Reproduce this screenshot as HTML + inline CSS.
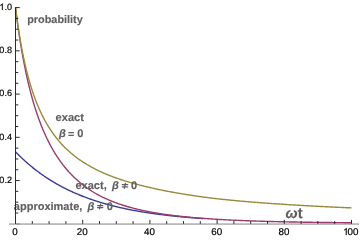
<!DOCTYPE html><html><head><meta charset="utf-8"><style>html,body{margin:0;padding:0;background:#fff;}svg{display:block;font-family:"Liberation Sans",sans-serif;text-rendering:geometricPrecision;}</style></head><body>
<svg width="361" height="241" viewBox="0 0 361 241">
<defs><filter id="bl" x="0" y="0" width="361" height="241" filterUnits="userSpaceOnUse"><feGaussianBlur stdDeviation="0.35"/></filter></defs>
<rect width="361" height="241" fill="#fff"/>
<g shape-rendering="auto">
<rect x="9" y="223" width="350" height="1" fill="#c6c6c6"/>
<rect x="9" y="224" width="350" height="1" fill="#bcbcbc"/>
</g>
<g filter="url(#bl)">
<g fill="none" stroke-width="1.4" stroke-linejoin="round">
<path d="M15.50 151.80 L16.13 152.44 L16.75 153.08 L17.38 153.72 L18.01 154.35 L18.64 154.97 L19.26 155.59 L19.89 156.20 L20.52 156.80 L21.14 157.41 L21.77 158.00 L22.40 158.59 L23.03 159.18 L23.65 159.76 L24.28 160.33 L24.91 160.90 L25.54 161.46 L26.16 162.02 L26.79 162.58 L27.42 163.12 L28.04 163.67 L28.67 164.21 L29.30 164.74 L29.93 165.27 L30.55 165.80 L31.18 166.32 L31.81 166.83 L32.43 167.34 L33.06 167.85 L33.69 168.35 L34.32 168.84 L34.94 169.34 L35.57 169.82 L36.20 170.31 L36.82 170.79 L37.45 171.26 L38.08 171.73 L38.71 172.20 L39.33 172.66 L39.96 173.12 L40.59 173.57 L41.22 174.02 L41.84 174.47 L42.47 174.91 L43.10 175.34 L43.72 175.78 L44.35 176.21 L44.98 176.63 L45.61 177.05 L46.23 177.47 L46.86 177.89 L47.49 178.30 L48.11 178.70 L48.74 179.11 L49.37 179.51 L50.00 179.90 L50.62 180.29 L51.25 180.68 L51.88 181.07 L52.50 181.45 L53.13 181.83 L53.76 182.20 L54.39 182.57 L55.01 182.94 L55.64 183.31 L56.27 183.67 L56.90 184.03 L57.52 184.38 L58.15 184.73 L58.78 185.08 L59.40 185.43 L60.03 185.77 L60.66 186.11 L61.29 186.45 L61.91 186.78 L62.54 187.11 L63.17 187.44 L63.79 187.76 L64.42 188.08 L65.05 188.40 L65.68 188.71 L66.30 189.03 L66.93 189.34 L67.56 189.64 L68.18 189.95 L68.81 190.25 L69.44 190.55 L70.07 190.84 L70.69 191.14 L71.32 191.43 L71.95 191.72 L72.58 192.00 L73.20 192.28 L73.83 192.56 L74.46 192.84 L75.08 193.12 L75.71 193.39 L76.34 193.66 L76.97 193.93 L77.59 194.19 L78.22 194.46 L78.85 194.72 L79.47 194.98 L80.10 195.23 L80.73 195.49 L81.36 195.74 L81.98 195.99 L82.61 196.23 L83.24 196.48 L83.86 196.72 L84.49 196.96 L85.12 197.20 L85.75 197.43 L86.37 197.67 L87.00 197.90 L87.63 198.13 L88.26 198.36 L88.88 198.58 L89.51 198.81 L90.14 199.03 L90.76 199.25 L91.39 199.46 L92.02 199.68 L92.65 199.89 L93.27 200.10 L93.90 200.31 L94.53 200.52 L95.15 200.73 L95.78 200.93 L96.41 201.13 L97.04 201.33 L97.66 201.53 L98.29 201.73 L98.92 201.92 L99.54 202.12 L100.17 202.31 L100.80 202.50 L101.43 202.69 L102.05 202.87 L102.68 203.06 L103.31 203.24 L103.94 203.42 L104.56 203.60 L105.19 203.78 L105.82 203.96 L106.44 204.13 L107.07 204.30 L107.70 204.48 L108.33 204.65 L108.95 204.81 L109.58 204.98 L110.21 205.15 L110.83 205.31 L111.46 205.47 L112.09 205.64 L112.72 205.79 L113.34 205.95 L113.97 206.11 L114.60 206.27 L115.22 206.42 L115.85 206.57 L116.48 206.72 L117.11 206.87 L117.73 207.02 L118.36 207.17 L118.99 207.31 L119.62 207.46 L120.24 207.60 L120.87 207.74 L121.50 207.88 L122.12 208.02 L122.75 208.16 L123.38 208.30 L124.01 208.43 L124.63 208.57 L125.26 208.70 L125.89 208.83 L126.51 208.96 L127.14 209.09 L127.77 209.22 L128.40 209.35 L129.02 209.48 L129.65 209.60 L130.28 209.72 L130.90 209.85 L131.53 209.97 L132.16 210.09 L132.79 210.21 L133.41 210.33 L134.04 210.44 L134.67 210.56 L135.30 210.68 L135.92 210.79 L136.55 210.90 L137.18 211.01 L137.80 211.13 L138.43 211.24 L139.06 211.34 L139.69 211.45 L140.31 211.56 L140.94 211.67 L141.57 211.77 L142.19 211.88 L142.82 211.98 L143.45 212.08 L144.08 212.18 L144.70 212.28 L145.33 212.38 L145.96 212.48 L146.58 212.58 L147.21 212.68 L147.84 212.77 L148.47 212.87 L149.09 212.96 L149.72 213.05 L150.35 213.15 L150.98 213.24 L151.60 213.33 L152.23 213.42 L152.86 213.51 L153.48 213.60 L154.11 213.69 L154.74 213.77 L155.37 213.86 L155.99 213.94 L156.62 214.03 L157.25 214.11 L157.87 214.20 L158.50 214.28 L159.13 214.36 L159.76 214.44 L160.38 214.52 L161.01 214.60 L161.64 214.68 L162.26 214.76 L162.89 214.83 L163.52 214.91 L164.15 214.99 L164.77 215.06 L165.40 215.14 L166.03 215.21 L166.66 215.28 L167.28 215.35 L167.91 215.43 L168.54 215.50 L169.16 215.57 L169.79 215.64 L170.42 215.71 L171.05 215.78 L171.67 215.84 L172.30 215.91 L172.93 215.98 L173.55 216.04 L174.18 216.11 L174.81 216.17 L175.44 216.24 L176.06 216.30 L176.69 216.37 L177.32 216.43 L177.94 216.49 L178.57 216.55 L179.20 216.61 L179.83 216.67 L180.45 216.73 L181.08 216.79 L181.71 216.85 L182.34 216.91 L182.96 216.97 L183.59 217.03 L184.22 217.08 L184.84 217.14 L185.47 217.19 L186.10 217.25 L186.73 217.30 L187.35 217.36 L187.98 217.41 L188.61 217.46 L189.23 217.52 L189.86 217.57 L190.49 217.62 L191.12 217.67 L191.74 217.72 L192.37 217.77 L193.00 217.82 L193.62 217.87 L194.25 217.92 L194.88 217.97 L195.51 218.02 L196.13 218.07 L196.76 218.11 L197.39 218.16 L198.02 218.21 L198.64 218.25 L199.27 218.30 L199.90 218.34 L200.52 218.39 L201.15 218.43 L201.78 218.48 L202.41 218.52 L203.03 218.56 L203.66 218.61" stroke="#3D3D99"/>
<path d="M15.50 7.60 L16.34 14.29 L17.18 20.67 L18.02 26.75 L18.86 32.56 L19.70 38.10 L20.54 43.40 L21.38 48.47 L22.22 53.33 L23.06 57.98 L23.90 62.43 L24.74 66.71 L25.58 70.82 L26.42 74.77 L27.26 78.56 L28.10 82.22 L28.94 85.73 L29.78 89.12 L30.62 92.39 L31.46 95.54 L32.30 98.58 L33.14 101.51 L33.98 104.35 L34.82 107.10 L35.66 109.75 L36.50 112.32 L37.34 114.81 L38.18 117.22 L39.02 119.55 L39.86 121.82 L40.70 124.01 L41.54 126.15 L42.38 128.22 L43.22 130.23 L44.06 132.18 L44.90 134.08 L45.74 135.93 L46.58 137.72 L47.42 139.47 L48.26 141.17 L49.10 142.82 L49.94 144.43 L50.78 146.00 L51.62 147.53 L52.46 149.02 L53.30 150.48 L54.14 151.89 L54.98 153.27 L55.82 154.62 L56.66 155.94 L57.50 157.22 L58.34 158.47 L59.18 159.69 L60.02 160.89 L60.86 162.05 L61.70 163.19 L62.54 164.31 L63.38 165.39 L64.22 166.45 L65.06 167.49 L65.90 168.51 L66.74 169.50 L67.58 170.47 L68.42 171.42 L69.26 172.35 L70.10 173.25 L70.94 174.14 L71.78 175.01 L72.62 175.86 L73.46 176.69 L74.30 177.51 L75.14 178.30 L75.98 179.08 L76.82 179.85 L77.66 180.60 L78.50 181.33 L79.34 182.05 L80.18 182.75 L81.02 183.44 L81.86 184.11 L82.70 184.77 L83.54 185.42 L84.38 186.05 L85.22 186.67 L86.06 187.28 L86.90 187.88 L87.74 188.47 L88.58 189.04 L89.42 189.60 L90.26 190.15 L91.10 190.69 L91.94 191.22 L92.78 191.74 L93.62 192.25 L94.46 192.75 L95.30 193.24 L96.14 193.73 L96.98 194.20 L97.82 194.66 L98.66 195.11 L99.50 195.56 L100.34 196.00 L101.18 196.43 L102.02 196.85 L102.86 197.26 L103.70 197.67 L104.54 198.07 L105.38 198.46 L106.22 198.84 L107.06 199.22 L107.90 199.59 L108.74 199.95 L109.58 200.31 L110.42 200.66 L111.26 201.01 L112.10 201.34 L112.94 201.68 L113.78 202.00 L114.62 202.32 L115.46 202.64 L116.30 202.95 L117.14 203.25 L117.98 203.55 L118.82 203.84 L119.66 204.13 L120.50 204.42 L121.34 204.70 L122.18 204.97 L123.02 205.24 L123.86 205.50 L124.70 205.76 L125.54 206.02 L126.38 206.27 L127.22 206.52 L128.06 206.76 L128.90 207.00 L129.74 207.24 L130.58 207.47 L131.42 207.69 L132.26 207.92 L133.10 208.14 L133.94 208.35 L134.78 208.57 L135.62 208.78 L136.46 208.98 L137.30 209.19 L138.14 209.38 L138.98 209.58 L139.82 209.77 L140.66 209.96 L141.50 210.15 L142.34 210.33 L143.18 210.52 L144.02 210.69 L144.86 210.87 L145.70 211.04 L146.54 211.21 L147.38 211.38 L148.22 211.54 L149.06 211.71 L149.90 211.87 L150.74 212.02 L151.58 212.18 L152.42 212.33 L153.26 212.48 L154.10 212.63 L154.94 212.77 L155.78 212.92 L156.62 213.06 L157.46 213.20 L158.30 213.33 L159.14 213.47 L159.98 213.60 L160.82 213.73 L161.66 213.86 L162.50 213.99 L163.34 214.11 L164.18 214.23 L165.02 214.36 L165.86 214.48 L166.70 214.59 L167.54 214.71 L168.38 214.82 L169.22 214.94 L170.06 215.05 L170.90 215.16 L171.74 215.26 L172.58 215.37 L173.42 215.48 L174.26 215.58 L175.10 215.68 L175.94 215.78 L176.78 215.88 L177.62 215.98 L178.46 216.07 L179.30 216.17 L180.14 216.26 L180.98 216.35 L181.82 216.44 L182.66 216.53 L183.50 216.62 L184.34 216.71 L185.18 216.79 L186.02 216.88 L186.86 216.96 L187.70 217.04 L188.54 217.12 L189.38 217.20 L190.22 217.28 L191.06 217.36 L191.90 217.44 L192.74 217.51 L193.58 217.59 L194.42 217.66 L195.26 217.73 L196.10 217.80 L196.94 217.87 L197.78 217.94 L198.62 218.01 L199.46 218.08 L200.30 218.15 L201.14 218.21 L201.98 218.28 L202.82 218.34 L203.66 218.41 L204.50 218.47 L205.34 218.53 L206.18 218.59 L207.02 218.65 L207.86 218.71 L208.70 218.77 L209.54 218.82 L210.38 218.88 L211.22 218.94 L212.06 218.99 L212.90 219.05 L213.74 219.10 L214.58 219.15 L215.42 219.21 L216.26 219.26 L217.10 219.31 L217.94 219.36 L218.78 219.41 L219.62 219.46 L220.46 219.50 L221.30 219.55 L222.14 219.60 L222.98 219.65 L223.82 219.69 L224.66 219.74 L225.50 219.78 L226.34 219.83 L227.18 219.87 L228.02 219.91 L228.86 219.95 L229.70 220.00 L230.54 220.04 L231.38 220.08 L232.22 220.12 L233.06 220.16 L233.90 220.20 L234.74 220.24 L235.58 220.27 L236.42 220.31 L237.26 220.35 L238.10 220.39 L238.94 220.42 L239.78 220.46 L240.62 220.49 L241.46 220.53 L242.30 220.56 L243.14 220.60 L243.98 220.63 L244.82 220.66 L245.66 220.70 L246.50 220.73 L247.34 220.76 L248.18 220.79 L249.02 220.82 L249.86 220.85 L250.70 220.88 L251.54 220.91 L252.38 220.94 L253.22 220.97 L254.06 221.00 L254.90 221.03 L255.74 221.06 L256.58 221.08 L257.42 221.11 L258.26 221.14 L259.10 221.16 L259.94 221.19 L260.78 221.22 L261.62 221.24 L262.46 221.27 L263.30 221.29 L264.14 221.32 L264.98 221.34 L265.82 221.37 L266.66 221.39 L267.50 221.41 L268.34 221.44 L269.18 221.46 L270.02 221.48 L270.86 221.50 L271.70 221.53 L272.54 221.55 L273.38 221.57 L274.22 221.59 L275.06 221.61 L275.90 221.63 L276.74 221.65 L277.58 221.67 L278.42 221.69 L279.26 221.71 L280.10 221.73 L280.94 221.75 L281.78 221.77 L282.62 221.79 L283.46 221.81 L284.30 221.83 L285.14 221.84 L285.98 221.86 L286.82 221.88 L287.66 221.90 L288.50 221.91 L289.34 221.93 L290.18 221.95 L291.02 221.96 L291.86 221.98 L292.70 222.00 L293.54 222.01 L294.38 222.03 L295.22 222.04 L296.06 222.06 L296.90 222.07 L297.74 222.09 L298.58 222.10 L299.42 222.12 L300.26 222.13 L301.10 222.15 L301.94 222.16 L302.78 222.17 L303.62 222.19 L304.46 222.20 L305.30 222.22 L306.14 222.23 L306.98 222.24 L307.82 222.25 L308.66 222.27 L309.50 222.28 L310.34 222.29 L311.18 222.30 L312.02 222.32 L312.86 222.33 L313.70 222.34 L314.54 222.35 L315.38 222.36 L316.22 222.38 L317.06 222.39 L317.90 222.40 L318.74 222.41 L319.58 222.42 L320.42 222.43 L321.26 222.44 L322.10 222.45 L322.94 222.46 L323.78 222.47 L324.62 222.48 L325.46 222.49 L326.30 222.50 L327.14 222.51 L327.98 222.52 L328.82 222.53 L329.66 222.54 L330.50 222.55 L331.34 222.56 L332.18 222.57 L333.02 222.58 L333.86 222.58 L334.70 222.59 L335.54 222.60 L336.38 222.61 L337.22 222.62 L338.06 222.63 L338.90 222.64 L339.74 222.64 L340.58 222.65 L341.42 222.66 L342.26 222.67 L343.10 222.67 L343.94 222.68 L344.78 222.69 L345.62 222.70 L346.46 222.70 L347.30 222.71 L348.14 222.72 L348.98 222.73 L349.82 222.73 L350.66 222.74 L351.50 222.75" stroke="#993D71"/>
<path d="M15.50 7.60 L16.34 14.16 L17.18 20.34 L18.02 26.16 L18.86 31.65 L19.70 36.85 L20.54 41.77 L21.38 46.44 L22.22 50.88 L23.06 55.10 L23.90 59.11 L24.74 62.94 L25.58 66.60 L26.42 70.09 L27.26 73.43 L28.10 76.63 L28.94 79.69 L29.78 82.63 L30.62 85.45 L31.46 88.16 L32.30 90.77 L33.14 93.27 L33.98 95.69 L34.82 98.01 L35.66 100.25 L36.50 102.42 L37.34 104.51 L38.18 106.52 L39.02 108.47 L39.86 110.36 L40.70 112.19 L41.54 113.95 L42.38 115.67 L43.22 117.32 L44.06 118.93 L44.90 120.49 L45.74 122.01 L46.58 123.48 L47.42 124.91 L48.26 126.30 L49.10 127.65 L49.94 128.96 L50.78 130.24 L51.62 131.48 L52.46 132.69 L53.30 133.87 L54.14 135.02 L54.98 136.14 L55.82 137.23 L56.66 138.29 L57.50 139.33 L58.34 140.34 L59.18 141.33 L60.02 142.30 L60.86 143.24 L61.70 144.16 L62.54 145.06 L63.38 145.94 L64.22 146.80 L65.06 147.65 L65.90 148.47 L66.74 149.27 L67.58 150.06 L68.42 150.84 L69.26 151.59 L70.10 152.33 L70.94 153.06 L71.78 153.77 L72.62 154.46 L73.46 155.15 L74.30 155.81 L75.14 156.47 L75.98 157.11 L76.82 157.75 L77.66 158.36 L78.50 158.97 L79.34 159.57 L80.18 160.15 L81.02 160.73 L81.86 161.29 L82.70 161.85 L83.54 162.39 L84.38 162.93 L85.22 163.45 L86.06 163.97 L86.90 164.48 L87.74 164.98 L88.58 165.47 L89.42 165.95 L90.26 166.42 L91.10 166.89 L91.94 167.35 L92.78 167.80 L93.62 168.24 L94.46 168.68 L95.30 169.11 L96.14 169.54 L96.98 169.95 L97.82 170.36 L98.66 170.77 L99.50 171.17 L100.34 171.56 L101.18 171.95 L102.02 172.33 L102.86 172.70 L103.70 173.07 L104.54 173.44 L105.38 173.79 L106.22 174.15 L107.06 174.50 L107.90 174.84 L108.74 175.18 L109.58 175.52 L110.42 175.85 L111.26 176.17 L112.10 176.49 L112.94 176.81 L113.78 177.12 L114.62 177.43 L115.46 177.73 L116.30 178.03 L117.14 178.33 L117.98 178.62 L118.82 178.91 L119.66 179.19 L120.50 179.48 L121.34 179.75 L122.18 180.03 L123.02 180.30 L123.86 180.56 L124.70 180.83 L125.54 181.09 L126.38 181.35 L127.22 181.60 L128.06 181.85 L128.90 182.10 L129.74 182.35 L130.58 182.59 L131.42 182.83 L132.26 183.07 L133.10 183.30 L133.94 183.53 L134.78 183.76 L135.62 183.99 L136.46 184.21 L137.30 184.44 L138.14 184.66 L138.98 184.88 L139.82 185.09 L140.66 185.31 L141.50 185.52 L142.34 185.73 L143.18 185.94 L144.02 186.15 L144.86 186.35 L145.70 186.56 L146.54 186.76 L147.38 186.96 L148.22 187.16 L149.06 187.35 L149.90 187.55 L150.74 187.74 L151.58 187.93 L152.42 188.12 L153.26 188.31 L154.10 188.50 L154.94 188.68 L155.78 188.86 L156.62 189.05 L157.46 189.23 L158.30 189.40 L159.14 189.58 L159.98 189.76 L160.82 189.93 L161.66 190.10 L162.50 190.27 L163.34 190.44 L164.18 190.61 L165.02 190.78 L165.86 190.94 L166.70 191.11 L167.54 191.27 L168.38 191.43 L169.22 191.59 L170.06 191.75 L170.90 191.90 L171.74 192.06 L172.58 192.21 L173.42 192.37 L174.26 192.52 L175.10 192.67 L175.94 192.82 L176.78 192.96 L177.62 193.11 L178.46 193.26 L179.30 193.40 L180.14 193.54 L180.98 193.68 L181.82 193.82 L182.66 193.96 L183.50 194.10 L184.34 194.24 L185.18 194.37 L186.02 194.51 L186.86 194.64 L187.70 194.77 L188.54 194.91 L189.38 195.04 L190.22 195.16 L191.06 195.29 L191.90 195.42 L192.74 195.54 L193.58 195.67 L194.42 195.79 L195.26 195.91 L196.10 196.03 L196.94 196.15 L197.78 196.27 L198.62 196.39 L199.46 196.51 L200.30 196.62 L201.14 196.74 L201.98 196.85 L202.82 196.97 L203.66 197.08 L204.50 197.19 L205.34 197.30 L206.18 197.41 L207.02 197.51 L207.86 197.62 L208.70 197.73 L209.54 197.83 L210.38 197.94 L211.22 198.04 L212.06 198.14 L212.90 198.24 L213.74 198.34 L214.58 198.44 L215.42 198.54 L216.26 198.64 L217.10 198.73 L217.94 198.83 L218.78 198.92 L219.62 199.02 L220.46 199.11 L221.30 199.20 L222.14 199.29 L222.98 199.38 L223.82 199.47 L224.66 199.56 L225.50 199.65 L226.34 199.73 L227.18 199.82 L228.02 199.90 L228.86 199.99 L229.70 200.07 L230.54 200.15 L231.38 200.24 L232.22 200.32 L233.06 200.40 L233.90 200.47 L234.74 200.55 L235.58 200.63 L236.42 200.71 L237.26 200.78 L238.10 200.86 L238.94 200.94 L239.78 201.01 L240.62 201.09 L241.46 201.16 L242.30 201.23 L243.14 201.31 L243.98 201.38 L244.82 201.45 L245.66 201.52 L246.50 201.59 L247.34 201.67 L248.18 201.74 L249.02 201.81 L249.86 201.87 L250.70 201.94 L251.54 202.01 L252.38 202.08 L253.22 202.15 L254.06 202.21 L254.90 202.28 L255.74 202.35 L256.58 202.41 L257.42 202.48 L258.26 202.54 L259.10 202.61 L259.94 202.67 L260.78 202.74 L261.62 202.80 L262.46 202.86 L263.30 202.93 L264.14 202.99 L264.98 203.05 L265.82 203.11 L266.66 203.17 L267.50 203.23 L268.34 203.30 L269.18 203.36 L270.02 203.42 L270.86 203.47 L271.70 203.53 L272.54 203.59 L273.38 203.65 L274.22 203.71 L275.06 203.77 L275.90 203.82 L276.74 203.88 L277.58 203.94 L278.42 203.99 L279.26 204.05 L280.10 204.11 L280.94 204.16 L281.78 204.22 L282.62 204.27 L283.46 204.32 L284.30 204.38 L285.14 204.43 L285.98 204.49 L286.82 204.54 L287.66 204.59 L288.50 204.64 L289.34 204.70 L290.18 204.75 L291.02 204.80 L291.86 204.85 L292.70 204.90 L293.54 204.95 L294.38 205.00 L295.22 205.06 L296.06 205.11 L296.90 205.15 L297.74 205.20 L298.58 205.25 L299.42 205.30 L300.26 205.35 L301.10 205.40 L301.94 205.45 L302.78 205.50 L303.62 205.54 L304.46 205.59 L305.30 205.64 L306.14 205.68 L306.98 205.73 L307.82 205.78 L308.66 205.82 L309.50 205.87 L310.34 205.92 L311.18 205.96 L312.02 206.01 L312.86 206.05 L313.70 206.10 L314.54 206.14 L315.38 206.18 L316.22 206.23 L317.06 206.27 L317.90 206.32 L318.74 206.36 L319.58 206.40 L320.42 206.45 L321.26 206.49 L322.10 206.53 L322.94 206.57 L323.78 206.61 L324.62 206.66 L325.46 206.70 L326.30 206.74 L327.14 206.78 L327.98 206.82 L328.82 206.86 L329.66 206.90 L330.50 206.94 L331.34 206.98 L332.18 207.02 L333.02 207.06 L333.86 207.10 L334.70 207.14 L335.54 207.18 L336.38 207.22 L337.22 207.26 L338.06 207.30 L338.90 207.34 L339.74 207.38 L340.58 207.41 L341.42 207.45 L342.26 207.49 L343.10 207.53 L343.94 207.56 L344.78 207.60 L345.62 207.64 L346.46 207.68 L347.30 207.71 L348.14 207.75 L348.98 207.78 L349.82 207.82 L350.66 207.86 L351.50 207.89" stroke="#998B3D"/>
</g>
<g fill="#000" stroke="#000" stroke-width="0.2">
<g font-size="9.8px">
<text x="15.10" y="235" text-anchor="middle">0</text>
<text x="82.30" y="235" text-anchor="middle">20</text>
<text x="149.50" y="235" text-anchor="middle">40</text>
<text x="216.70" y="235" text-anchor="middle">60</text>
<text x="283.90" y="235" text-anchor="middle">80</text>
<path d="M763 0L583 0L583 1147Q518 1085 412.5 1023Q307 961 223 930L223 1104Q374 1175 487 1276Q600 1377 647 1472L763 1472Z" transform="translate(343.00 235.00) scale(0.00479 -0.00479)" vector-effect="non-scaling-stroke"/>
<text x="347.6" y="235">00</text>
</g><g font-size="9.1px">
<text x="12.0" y="183" text-anchor="end">0.2</text>
<text x="12.0" y="140" text-anchor="end">0.4</text>
<text x="12.0" y="96" text-anchor="end">0.6</text>
<text x="12.0" y="53" text-anchor="end">0.8</text>
<text x="12.0" y="10" text-anchor="end">.0</text>
<path d="M763 0L583 0L583 1147Q518 1085 412.5 1023Q307 961 223 930L223 1104Q374 1175 487 1276Q600 1377 647 1472L763 1472Z" transform="translate(-0.65 10.00) scale(0.00444 -0.00444)" vector-effect="non-scaling-stroke"/>
</g></g>
<g fill="#606060" stroke="#606060" stroke-width="0.15">
<text x="27.15" y="23.30" font-size="10.9px" font-style="normal" font-weight="bold">probability</text>
<text x="55.60" y="120.80" font-size="11.1px" font-style="normal" font-weight="bold">exact</text>
<text x="58.95" y="136.70" font-size="11px" font-style="italic" font-weight="bold">β</text>
<path d="M68.40 132.55H73.90M68.40 135.30H73.90" fill="none" stroke-width="1.30"/>
<text x="77.20" y="136.70" font-size="11px" font-style="normal" font-weight="bold">0</text>
<text x="75.50" y="189.00" font-size="11px" font-style="normal" font-weight="bold">exact,</text>
<text x="112.05" y="189.00" font-size="11px" font-style="italic" font-weight="bold">β</text>
<path d="M121.80 184.70H128.20M121.80 186.85H128.20M124.10 188.75L125.60 182.90" fill="none" stroke-width="1.25"/>
<text x="131.00" y="189.00" font-size="11px" font-style="normal" font-weight="bold">0</text>
<text x="13.85" y="209.50" font-size="11px" font-style="normal" font-weight="bold">approximate,</text>
<text x="87.45" y="209.50" font-size="11px" font-style="italic" font-weight="bold">β</text>
<path d="M97.10 205.55H103.30M97.10 207.65H103.30M99.40 209.30L100.75 203.70" fill="none" stroke-width="1.25"/>
<text x="106.70" y="209.50" font-size="11px" font-style="normal" font-weight="bold">0</text>
<text x="285.60" y="218.00" font-size="14.5px" font-style="italic" font-weight="bold">ω</text>
<text x="297.70" y="218.00" font-size="14.8px" font-style="normal" font-weight="bold">t</text>
</g>
</g>
<g>
<rect x="15.05" y="7.1" width="0.95" height="216.8" fill="#202020"/>
<g stroke="#111" stroke-width="0.9" fill="none">
<line x1="32.30" y1="223.80" x2="32.30" y2="221.10"/>
<line x1="49.10" y1="223.80" x2="49.10" y2="221.10"/>
<line x1="65.90" y1="223.80" x2="65.90" y2="221.10"/>
<line x1="82.70" y1="223.80" x2="82.70" y2="219.90"/>
<line x1="99.50" y1="223.80" x2="99.50" y2="221.10"/>
<line x1="116.30" y1="223.80" x2="116.30" y2="221.10"/>
<line x1="133.10" y1="223.80" x2="133.10" y2="221.10"/>
<line x1="149.90" y1="223.80" x2="149.90" y2="219.90"/>
<line x1="166.70" y1="223.80" x2="166.70" y2="221.10"/>
<line x1="183.50" y1="223.80" x2="183.50" y2="221.10"/>
<line x1="200.30" y1="223.80" x2="200.30" y2="221.10"/>
<line x1="217.10" y1="223.80" x2="217.10" y2="219.90"/>
<line x1="233.90" y1="223.80" x2="233.90" y2="221.10"/>
<line x1="250.70" y1="223.80" x2="250.70" y2="221.10"/>
<line x1="267.50" y1="223.80" x2="267.50" y2="221.10"/>
<line x1="284.30" y1="223.80" x2="284.30" y2="219.90"/>
<line x1="301.10" y1="223.80" x2="301.10" y2="221.10"/>
<line x1="317.90" y1="223.80" x2="317.90" y2="221.10"/>
<line x1="334.70" y1="223.80" x2="334.70" y2="221.10"/>
<line x1="351.50" y1="223.80" x2="351.50" y2="219.90"/>
<rect x="16" y="223" width="3.7" height="2" fill="#a2a2a2" stroke="none"/>
<line x1="16" y1="212.99" x2="18.30" y2="212.99"/>
<line x1="16" y1="202.18" x2="18.30" y2="202.18"/>
<line x1="16" y1="191.37" x2="18.30" y2="191.37"/>
<line x1="16" y1="180.56" x2="19.70" y2="180.56"/>
<line x1="16" y1="169.75" x2="18.30" y2="169.75"/>
<line x1="16" y1="158.94" x2="18.30" y2="158.94"/>
<line x1="16" y1="148.13" x2="18.30" y2="148.13"/>
<line x1="16" y1="137.32" x2="19.70" y2="137.32"/>
<line x1="16" y1="126.51" x2="18.30" y2="126.51"/>
<line x1="16" y1="115.70" x2="18.30" y2="115.70"/>
<line x1="16" y1="104.89" x2="18.30" y2="104.89"/>
<line x1="16" y1="94.08" x2="19.70" y2="94.08"/>
<line x1="16" y1="83.27" x2="18.30" y2="83.27"/>
<line x1="16" y1="72.46" x2="18.30" y2="72.46"/>
<line x1="16" y1="61.65" x2="18.30" y2="61.65"/>
<line x1="16" y1="50.84" x2="19.70" y2="50.84"/>
<line x1="16" y1="40.03" x2="18.30" y2="40.03"/>
<line x1="16" y1="29.22" x2="18.30" y2="29.22"/>
<line x1="16" y1="18.41" x2="18.30" y2="18.41"/>
<line x1="16" y1="7.60" x2="19.70" y2="7.60"/>
</g></g>
</svg></body></html>
